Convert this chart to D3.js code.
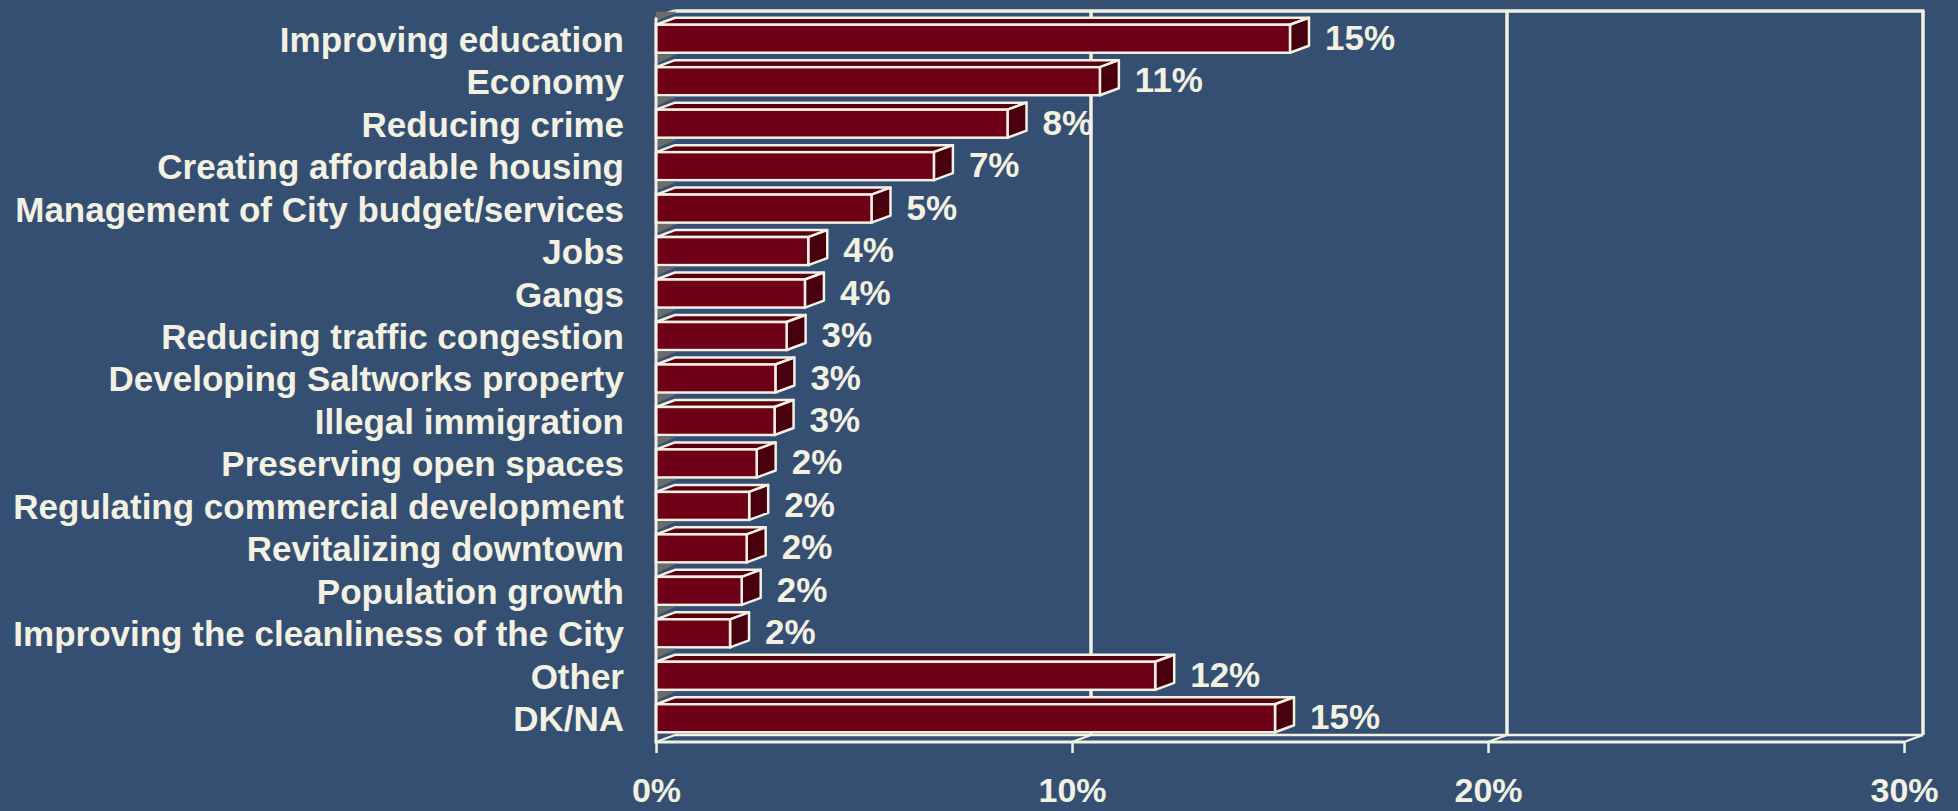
<!DOCTYPE html>
<html>
<head>
<meta charset="utf-8">
<script src="https://cdn.jsdelivr.net/npm/d3@7"></script>
<style>
  html, body { margin: 0; padding: 0; background: #354F73; }
  svg { display: block; }
  text { font-family: "Liberation Sans", Arial, sans-serif; font-weight: bold; fill: #F3F1E2; }
</style>
</head>
<body>
<svg id="chart" width="1958" height="811"></svg>
<script>
const categories = [
  "Improving education",
  "Economy",
  "Reducing crime",
  "Creating affordable housing",
  "Management of City budget/services",
  "Jobs",
  "Gangs",
  "Reducing traffic congestion",
  "Developing Saltworks property",
  "Illegal immigration",
  "Preserving open spaces",
  "Regulating commercial development",
  "Revitalizing downtown",
  "Population growth",
  "Improving the cleanliness of the City",
  "Other",
  "DK/NA"
];
const values = [15.24, 10.67, 8.45, 6.68, 5.18, 3.66, 3.58, 3.14, 2.87, 2.85, 2.42, 2.24, 2.18, 2.06, 1.78, 12.0, 14.88];
const tickValues = [0, 10, 20, 30];
const tickLabels = ["0%", "10%", "20%", "30%"];

const W = 1958, H = 811;
const CREAM = "#F3F1E2";
const DX = 19, DY = 7;          // 3-D depth offset
const FLOOR = 742;              // front baseline
const TOP = 17.5;

const svg = d3.select("#chart");
svg.append("rect").attr("width", W).attr("height", H).attr("fill", "#354F73");

const x = d3.scaleLinear().domain([0, 30]).range([656, 1904]);
const y = d3.scaleBand().domain(categories).range([17.5, 739.5]).paddingInner(0.34).paddingOuter(0.17);
const bw = y.bandwidth();

const data = categories.map((c, i) => ({ cat: c, v: values[i] }));

// ---- back wall & floor ----
const wall = svg.append("g").attr("fill", "none").attr("stroke", CREAM).attr("stroke-width", 3.5);
const xb = d => x(d) + DX;
const backTop = TOP - DY + 0.5, backFloor = FLOOR - DY;
tickValues.filter(t => t > 0 && t < 30).forEach(t => {
  wall.append("line").attr("x1", xb(t)).attr("x2", xb(t)).attr("y1", backTop).attr("y2", backFloor);
});
wall.append("line").attr("x1", xb(30)).attr("x2", xb(30)).attr("y1", backTop).attr("y2", backFloor);
wall.append("line").attr("x1", xb(0)).attr("x2", xb(30) + 1.5).attr("y1", backTop).attr("y2", backTop);
wall.append("line").attr("x1", x(0)).attr("x2", xb(0)).attr("y1", TOP).attr("y2", backTop);
wall.append("line").attr("x1", xb(0)).attr("x2", xb(30)).attr("y1", backFloor).attr("y2", backFloor)
  .attr("stroke-width", 2.5);
tickValues.forEach(t => {
  wall.append("line").attr("x1", x(t)).attr("x2", xb(t)).attr("y1", FLOOR).attr("y2", backFloor).attr("stroke-width", 2);
});

// ---- bars ----
const bars = svg.append("g").selectAll("g.bar").data(data).join("g").attr("class", "bar");

bars.append("polygon")
  .attr("points", d => {
    const yt = y(d.cat), x0 = x(0);
    return [[x0, yt - 13], [x0 + 21, yt - 13], [x0, yt - 3.5]].map(p => p.join(",")).join(" ");
  })
  .attr("fill", "#6B6B6B");

bars.append("polygon") // top face
  .attr("points", d => {
    const yt = y(d.cat), x0 = x(0), x1 = x(d.v);
    return [[x0, yt], [x0 + DX, yt - DY], [x1 + DX, yt - DY], [x1, yt]].map(p => p.join(",")).join(" ");
  })
  .attr("fill", "#560011").attr("stroke", CREAM).attr("stroke-width", 2.5).attr("stroke-linejoin", "round");

bars.append("polygon") // side face
  .attr("points", d => {
    const yt = y(d.cat), yb = yt + bw, x1 = x(d.v);
    return [[x1, yt], [x1 + DX, yt - DY], [x1 + DX, yb - DY], [x1, yb]].map(p => p.join(",")).join(" ");
  })
  .attr("fill", "#48000F").attr("stroke", CREAM).attr("stroke-width", 2.5).attr("stroke-linejoin", "round");

bars.append("rect") // front face
  .attr("x", x(0))
  .attr("y", d => y(d.cat))
  .attr("width", d => x(d.v) - x(0))
  .attr("height", bw)
  .attr("fill", "#6E0017").attr("stroke", CREAM).attr("stroke-width", 2.5);

// value labels
bars.append("text")
  .attr("x", d => x(d.v) + DX + 16)
  .attr("y", d => y(d.cat) + bw / 2 + 11)
  .attr("font-size", 35)
  .text(d => d3.format(".0f")(d.v) + "%");

// ---- front axes ----
const axisLines = svg.append("g").attr("stroke", CREAM).attr("fill", "none");
axisLines.append("line").attr("x1", x(0)).attr("x2", x(0)).attr("y1", TOP).attr("y2", FLOOR).attr("stroke-width", 3);
axisLines.append("line").attr("x1", x(0) - 1.5).attr("x2", x(30)).attr("y1", FLOOR).attr("y2", FLOOR).attr("stroke-width", 3);

const xAxis = svg.append("g")
  .attr("transform", `translate(0,${FLOOR})`)
  .call(d3.axisBottom(x).tickValues(tickValues).tickFormat((d, i) => tickLabels[i]).tickSize(11).tickPadding(25));
xAxis.select(".domain").remove();
xAxis.selectAll(".tick line").attr("stroke", CREAM).attr("stroke-width", 2.5);
xAxis.selectAll(".tick text").attr("font-size", 34).attr("fill", CREAM)
  .style("font-family", "'Liberation Sans', Arial, sans-serif").style("font-weight", "bold");

const yAxis = svg.append("g")
  .attr("transform", `translate(${x(0)},0)`)
  .call(d3.axisLeft(y).tickSize(0).tickPadding(32));
yAxis.select(".domain").remove();
yAxis.selectAll(".tick text").attr("font-size", 35).attr("fill", CREAM).attr("dy", "0.37em")
  .style("font-family", "'Liberation Sans', Arial, sans-serif").style("font-weight", "bold");
</script>
</body>
</html>
